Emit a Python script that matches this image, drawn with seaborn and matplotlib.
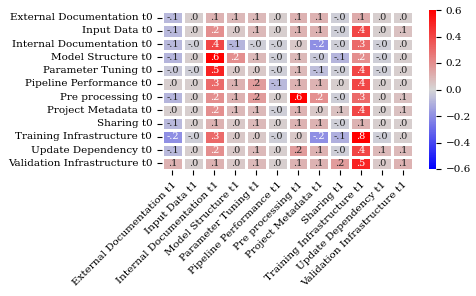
"""Heatmap of t0 vs t1 correlations between code-change categories."""

import numpy as np
import pandas as pd
import matplotlib
matplotlib.use("Agg")
import matplotlib.pyplot as plt
import seaborn as sns
from matplotlib.colors import LinearSegmentedColormap

categories = [
    "External Documentation", "Input Data", "Internal Documentation",
    "Model Structure", "Parameter Tuning", "Pipeline Performance",
    "Pre processing", "Project Metadata", "Sharing",
    "Training Infrastructure", "Update Dependency", "Validation Infrastructure",
]
row_labels = [c + " t0" for c in categories]
col_labels = [c + " t1" for c in categories]

# values (rows = t0, cols = t1)
corr_values = [
    [-0.08, 0.02, 0.10, 0.08, 0.08, 0.02, 0.10, 0.10, -0.02, 0.12, 0.02, 0.02],
    [-0.08, 0.02, 0.20, 0.04, 0.08, 0.02, 0.10, 0.10, -0.02, 0.40, 0.02, 0.06],
    [-0.08, -0.02, 0.40, -0.09, -0.02, -0.02, 0.04, -0.20, -0.02, 0.30, -0.02, 0.02],
    [-0.09, 0.02, 0.60, 0.20, 0.08, -0.02, 0.08, -0.04, -0.09, 0.20, -0.02, 0.02],
    [-0.04, -0.02, 0.50, 0.04, 0.04, -0.02, 0.08, -0.07, -0.02, 0.40, -0.02, 0.02],
    [0.02, 0.02, 0.30, 0.10, 0.16, -0.08, 0.10, 0.10, 0.02, 0.40, 0.02, 0.02],
    [-0.09, 0.02, 0.20, 0.10, 0.16, 0.02, 0.60, 0.20, -0.02, 0.30, 0.02, 0.06],
    [0.02, 0.02, 0.20, 0.08, 0.08, -0.02, 0.10, 0.04, 0.06, 0.40, 0.02, 0.06],
    [-0.08, 0.02, 0.10, 0.04, 0.08, 0.02, 0.10, 0.10, -0.02, 0.10, 0.02, 0.02],
    [-0.20, -0.02, 0.30, 0.04, 0.04, -0.02, 0.04, -0.20, -0.11, 0.80, -0.02, 0.02],
    [-0.08, 0.02, 0.20, 0.04, 0.08, 0.02, 0.16, 0.10, -0.02, 0.40, 0.08, 0.08],
    [0.10, 0.02, 0.10, 0.04, 0.08, 0.02, 0.10, 0.10, 0.16, 0.50, 0.04, 0.10],
]

df = pd.DataFrame(corr_values, index=row_labels, columns=col_labels)
annot = df.map(lambda v: f"{v:.1f}".replace("0.", "."))

plt.rcParams["font.family"] = "serif"
plt.rcParams["font.serif"] = ["DejaVu Serif"]
plt.rcParams["font.size"] = 7.5

cmap = LinearSegmentedColormap.from_list("bgr", ["#0000ff", "#d6d6d6", "#ff0000"])

fig = plt.figure(figsize=(4.76, 2.96), dpi=100)
ax = fig.add_axes([162 / 476, 1 - 170 / 296, 251 / 476, 159 / 296])
cax = fig.add_axes([429 / 476, 1 - 169 / 296, 7 / 476, 159 / 296])

sns.heatmap(df, annot=annot, fmt="", cmap=cmap, vmin=-0.6, vmax=0.6,
            linewidths=1, linecolor="white", ax=ax, cbar_ax=cax,
            xticklabels=True, yticklabels=True,
            annot_kws={"size": 7, "family": "serif"})
plt.setp(ax.get_xticklabels(), rotation=45, ha="right", rotation_mode="anchor",
         fontsize=7.5, family="serif")
plt.setp(ax.get_yticklabels(), rotation=0, fontsize=7.5, family="serif")
ax.set_xlabel("")
ax.set_ylabel("")
cax.set_yticks([-0.6, -0.4, -0.2, 0.0, 0.2, 0.4, 0.6])
cax.tick_params(labelsize=7.5)
plt.setp(cax.get_yticklabels(), family="serif")

fig.savefig("out.png", dpi=100)
